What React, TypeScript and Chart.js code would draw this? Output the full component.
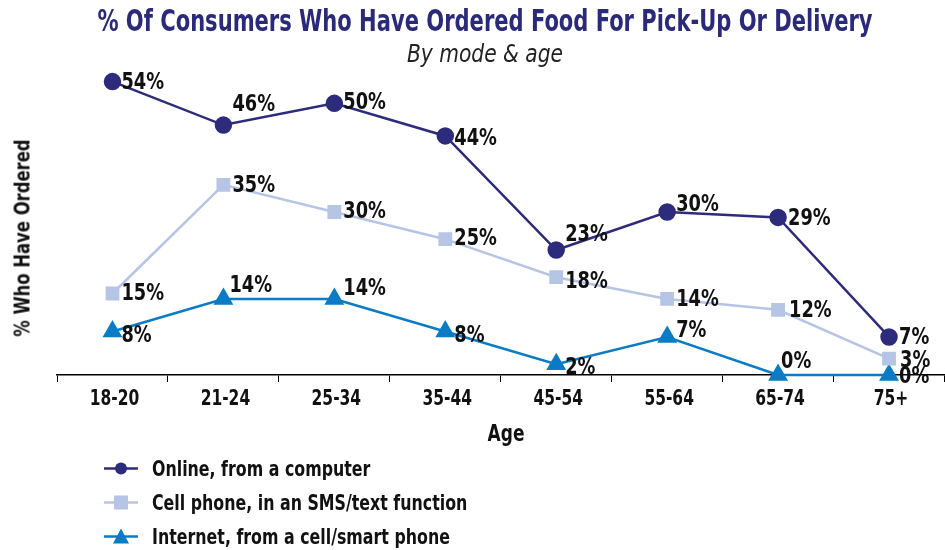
import React, { useEffect, useRef } from "react";
import { Chart, registerables } from "chart.js";

Chart.register(...registerables);

const categories = ["18-20", "21-24", "25-34", "35-44", "45-54", "55-64", "65-74", "75+"];
const seriesNames = [
  "Online, from a computer",
  "Cell phone, in an SMS/text function",
  "Internet, from a cell/smart phone",
];
const onlineValues = [54, 46, 50, 44, 23, 30, 29, 7];
const smsValues = [15, 35, 30, 25, 18, 14, 12, 3];
const internetValues = [8, 14, 14, 8, 2, 7, 0, 0];

const COLORS = ["#2d2b7c", "#b6c4e6", "#0a7bc4"];
const FONT = "'Liberation Sans Narrow', 'DejaVu Sans Condensed', 'Roboto', sans-serif";

// label offsets (layout only)
const labelDx = [
  [9, 9, 9, 9, 9, 9, 10, 10],
  [9, 9, 9, 9, 9, 9, 11, 11],
  [9, 6, 9, 9, 9, 9, 3, 10],
];
const labelDy = [
  [1, -20, 0, 3, -15, -7, 2, 1],
  [1, 1, 0, 0, 5, 1, 1, 2],
  [4, -13, -10, 4, 4, -6, -13, 2],
];

function drawSquished(ctx: any, text: string, x: number, y: number, sx: number, align: string) {
  ctx.save();
  ctx.translate(x, y);
  ctx.scale(sx, 1);
  ctx.textAlign = align;
  ctx.fillText(text, 0, 0);
  ctx.restore();
}

const labelPlugin = {
  id: "valueLabels",
  afterDraw(chart: any) {
    const ctx = chart.ctx;
    ctx.save();
    ctx.fillStyle = "#111";
    ctx.textBaseline = "middle";
    // value labels
    ctx.font = `bold 23px ${FONT}`;
    chart.data.datasets.forEach((ds: any, di: number) => {
      const meta = chart.getDatasetMeta(di);
      meta.data.forEach((pt: any, i: number) => {
        drawSquished(ctx, `${ds.data[i]}%`, pt.x + labelDx[di][i], pt.y + labelDy[di][i], 0.86, "left");
      });
    });
    // category tick labels, placed by the x scale
    const xs = chart.scales.x;
    ctx.font = `bold 21px ${FONT}`;
    chart.data.labels.forEach((lab: string, i: number) => {
      drawSquished(ctx, lab, xs.getPixelForValue(i) + 2, xs.top + 25, 0.82, "center");
    });
    ctx.restore();
  },
};

function LegendMarker({ idx }: { idx: number }) {
  const c = COLORS[idx];
  return (
    <svg width="34" height="20" style={{ display: "block" }}>
      <line x1="0" y1="10" x2="34" y2="10" stroke={c} strokeWidth="2.5" />
      {idx === 0 && <circle cx="17" cy="10" r="6" fill={c} />}
      {idx === 1 && <rect x="10" y="3" width="14" height="14" fill={c} />}
      {idx === 2 && <polygon points="17,2 25,17 9,17" fill={c} />}
    </svg>
  );
}

export default function App() {
  const ref = useRef<HTMLCanvasElement>(null);

  useEffect(() => {
    if (!ref.current) return;
    const chart = new Chart(ref.current, {
      type: "line",
      data: {
        labels: categories,
        datasets: [
          {
            label: seriesNames[0],
            data: onlineValues,
            borderColor: COLORS[0],
            backgroundColor: COLORS[0],
            borderWidth: 2.5,
            pointStyle: "circle",
            pointRadius: 7.5,
            pointHoverRadius: 7.5,
            tension: 0,
          },
          {
            label: seriesNames[1],
            data: smsValues,
            borderColor: COLORS[1],
            backgroundColor: COLORS[1],
            borderWidth: 2.5,
            pointStyle: "rect",
            pointRadius: 8,
            pointHoverRadius: 8,
            tension: 0,
          },
          {
            label: seriesNames[2],
            data: internetValues,
            borderColor: COLORS[2],
            backgroundColor: COLORS[2],
            borderWidth: 2.5,
            pointStyle: "triangle",
            pointRadius: 9,
            pointHoverRadius: 9,
            tension: 0,
          },
        ],
      },
      options: {
        animation: false,
        responsive: false,
        maintainAspectRatio: false,
        events: [],
        layout: { padding: { left: 57, top: 49, right: 0, bottom: 0 } },
        plugins: {
          legend: { display: false },
          title: { display: false },
          tooltip: { enabled: false },
        },
        scales: {
          x: {
            type: "category",
            offset: true,
            grid: {
              display: true,
              drawOnChartArea: false,
              drawTicks: true,
              tickLength: 7,
              offset: true,
              color: "#000",
              lineWidth: 1,
            },
            border: { display: true, color: "#000", width: 1.5 },
            ticks: { display: false, autoSkip: false },
            afterFit: (scale: any) => {
              scale.height = 175;
            },
          } as any,
          y: {
            display: false,
            min: 0,
            max: 60,
          },
        },
        clip: false as any,
      },
      plugins: [labelPlugin],
    });
    return () => chart.destroy();
  }, []);

  return (
    <div
      style={{
        position: "fixed",
        left: 0,
        top: 0,
        width: 945,
        height: 550,
        overflow: "hidden",
        background: "#fff",
        fontFamily: FONT,
      }}
    >
      <canvas ref={ref} width={956} height={550} style={{ position: "absolute", left: 0, top: 0 }} />
      <div
        style={{
          position: "absolute",
          left: 485,
          top: 3,
          transform: "translateX(-50%) scaleX(0.78)",
          fontSize: 30,
          fontWeight: "bold",
          color: "#2b2a7a",
          whiteSpace: "nowrap",
        }}
      >
        % Of Consumers Who Have Ordered Food For Pick-Up Or Delivery
      </div>
      <div
        style={{
          position: "absolute",
          left: 485,
          top: 39,
          transform: "translateX(-50%) scaleX(0.9)",
          fontSize: 25,
          fontStyle: "italic",
          color: "#222",
          whiteSpace: "nowrap",
        }}
      >
        By mode &amp; age
      </div>
      <div
        style={{
          position: "absolute",
          left: 22,
          top: 238,
          transform: "translate(-50%, -50%) rotate(-90deg) scaleX(0.83)",
          fontSize: 22,
          fontWeight: "bold",
          color: "#111",
          whiteSpace: "nowrap",
        }}
      >
        % Who Have Ordered
      </div>
      <div
        style={{
          position: "absolute",
          left: 506,
          top: 433,
          transform: "translate(-50%, -50%) scaleX(0.82)",
          fontSize: 23,
          fontWeight: "bold",
          color: "#111",
          whiteSpace: "nowrap",
        }}
      >
        Age
      </div>
      {seriesNames.map((name, i) => (
        <div
          key={name}
          style={{
            position: "absolute",
            left: 104,
            top: 468 + i * 34,
            transform: "translateY(-50%)",
            display: "flex",
            alignItems: "center",
            whiteSpace: "nowrap",
          }}
        >
          <LegendMarker idx={i} />
          <span
            style={{
              marginLeft: 14,
              fontSize: 22,
              fontWeight: "bold",
              color: "#111",
              display: "inline-block",
              transform: "scaleX(0.8)",
              transformOrigin: "left center",
            }}
          >
            {name}
          </span>
        </div>
      ))}
    </div>
  );
}
